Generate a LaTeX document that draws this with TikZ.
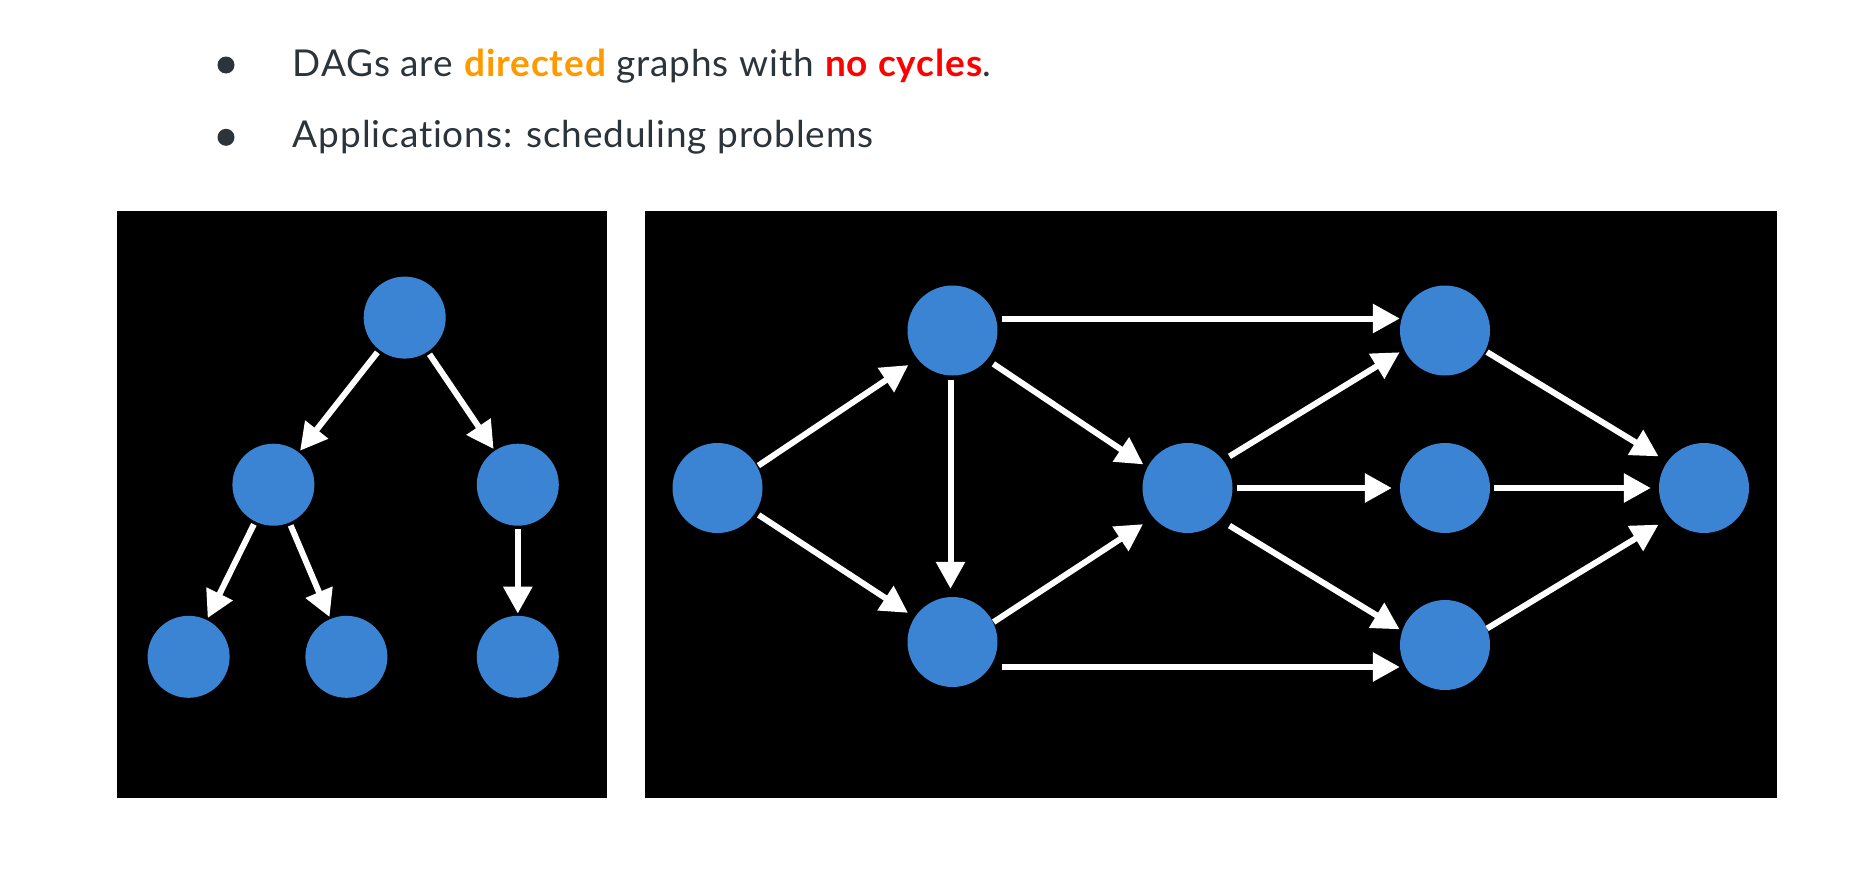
\documentclass[tikz,border=0pt]{standalone}
\usepackage{fontspec}
\setmainfont{Lato}[LetterSpace=2.4, Ligatures=NoCommon]
\usetikzlibrary{arrows.meta}
\definecolor{nodeblue}{RGB}{59,131,211}
\definecolor{ink}{RGB}{43,51,59}
\definecolor{accent}{RGB}{255,153,0}
\definecolor{alert}{RGB}{255,0,0}
\begin{document}
\begin{tikzpicture}[x=1pt,y=-1pt,
  panel/.style={fill=black},
  vtx/.style={circle, fill=nodeblue, inner sep=0pt, minimum size=#1},
  treevtx/.style={vtx=82pt},
  dagvtx/.style={vtx=90pt},
  edge/.style={draw=white, line width=6pt, -{Triangle[length=27pt,width=28pt]}},
  treeedge/.style={edge, shorten <=3pt, shorten >=2pt},
  dagedge/.style={edge, shorten <=4pt, shorten >=8pt},
  bulletdot/.style={circle, fill=ink, inner sep=0pt, minimum size=17pt},
  line/.style={anchor=base west, inner sep=0pt, text=ink, font=\fontsize{37}{44}\selectfont}
]
% page
\fill[white] (0,0) rectangle (1872,881);
\useasboundingbox (0,0) rectangle (1872,881);

% bullet list
\node[bulletdot] (b1) at (226,65) {};
\node[bulletdot] (b2) at (226,137.3) {};
\node[line] (t1) at (292.7,76.7) {DAGs are \textbf{\color{accent}directed} graphs with \textbf{\color{alert}no cycles}.};
\node[line] (t2) at (292.7,147.3) {Applications: scheduling problems};

% panels
\fill[panel] (117,211) rectangle (607,798);
\fill[panel] (645,211) rectangle (1777,798);

% tree
\node[treevtx] (r)  at (404.7,317.6) {};
\node[treevtx] (ml) at (273.4,484.7) {};
\node[treevtx] (mr) at (517.8,484.7) {};
\node[treevtx] (bl) at (188.6,656.8) {};
\node[treevtx] (bm) at (346.4,656.8) {};
\node[treevtx] (br) at (517.8,656.8) {};

\draw[treeedge] (r) -- (ml);
\draw[treeedge] (r) -- (mr);
\draw[treeedge] (ml) -- (bl);
\draw[treeedge] (ml) -- (bm);
\draw[treeedge] (mr) -- (br);

% dag
\node[dagvtx] (A) at (717.5,488) {};
\node[dagvtx] (B) at (952.5,330.5) {};
\node[dagvtx] (C) at (952.5,642) {};
\node[dagvtx] (D) at (1187.5,488) {};
\node[dagvtx] (E) at (1445,330.5) {};
\node[dagvtx] (F) at (1445,488) {};
\node[dagvtx] (G) at (1445,645) {};
\node[dagvtx] (H) at (1704,488) {};

\draw[dagedge, transform canvas={yshift=-5pt}] (A) -- (B);
\draw[dagedge] (A) -- (C);
\draw[dagedge] ([xshift=-2pt]B.south) -- ([xshift=-2pt]C.north);
\draw[dagedge, transform canvas={yshift=-6pt}] (B) -- (D);
\draw[dagedge, shorten >=0pt] ([yshift=12pt]B.east) -- ([yshift=12pt]B.east -| E.west);
\draw[dagedge, transform canvas={yshift=-7pt}] (C) -- (D);
\draw[dagedge, shorten >=0pt] ([yshift=-25pt]C.east) -- ([yshift=-25pt]C.east -| G.west);
\draw[dagedge, transform canvas={yshift=6pt}] (D) -- (E);
\draw[dagedge] (D) -- (F);
\draw[dagedge, transform canvas={yshift=-12pt}] (D) -- (G);
\draw[dagedge, transform canvas={yshift=4pt}] (E) -- (H);
\draw[dagedge] (F) -- (H);
\draw[dagedge, transform canvas={yshift=-9pt}] (G) -- (H);
\end{tikzpicture}
\end{document}
